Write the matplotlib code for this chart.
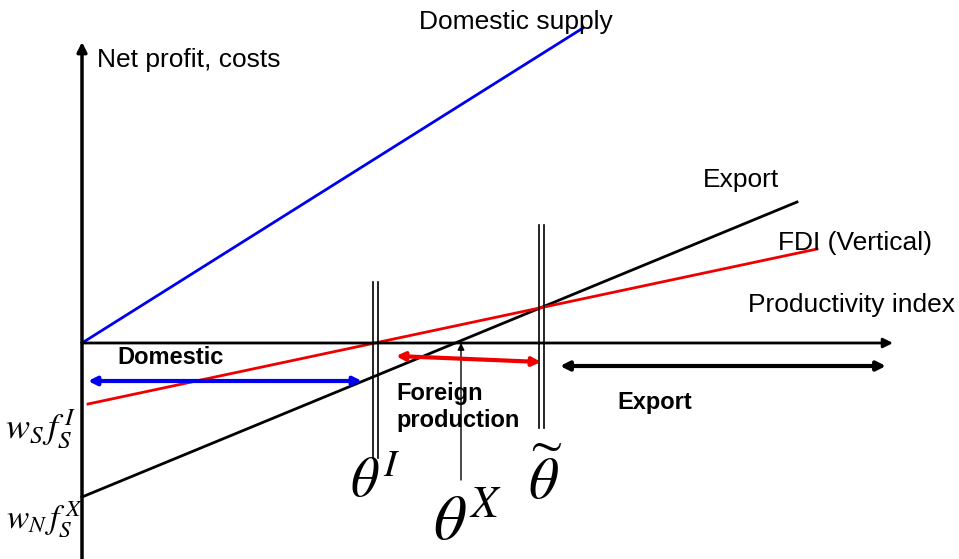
import matplotlib
matplotlib.use("Agg")
import matplotlib.pyplot as plt

plt.rcParams['font.family'] = ['Liberation Sans', 'DejaVu Sans']
plt.rcParams['mathtext.fontset'] = 'stix'

# Diagram data (x = productivity index, y = net profit / costs), origin at axes crossing
domestic_x = [0, 501]
domestic_y = [0, 315]
export_x = [0, 715]
export_y = [-154, 141]
fdi_x = [6, 735]
fdi_y = [-61, 94]

theta_I = 293
theta_X = 379
theta_tilde = 459

x_axis = [0, 811]
y_axis = [-216, 301]

fig = plt.figure(figsize=(9.59, 5.59), dpi=100)
ax = fig.add_axes([0, 0, 1, 1])
ax.set_xlim(-82, 877)
ax.set_ylim(-216, 343)
ax.axis('off')

# axes with arrows
ax.annotate('', xy=(x_axis[1], 0), xytext=(x_axis[0], 0),
            arrowprops=dict(arrowstyle='-|>', color='black', lw=2, mutation_scale=14, shrinkA=0, shrinkB=0))
ax.annotate('', xy=(0, y_axis[1]), xytext=(0, y_axis[0]),
            arrowprops=dict(arrowstyle='-|>', color='black', lw=2.5, mutation_scale=14, shrinkA=0, shrinkB=0))

# lines
ax.plot(domestic_x, domestic_y, color='#0000ee', lw=2)
ax.plot(export_x, export_y, color='black', lw=2)
ax.plot(fdi_x, fdi_y, color='#ee0000', lw=2)

# double vertical lines
for xc, (y0, y1) in [(theta_I, (-115, 61)), (theta_tilde, (-85, 118))]:
    for dx in (-2.5, 2.5):
        ax.plot([xc + dx, xc + dx], [y0, y1], color='black', lw=1.2)

# theta^X thin arrow
ax.annotate('', xy=(theta_X, 0), xytext=(theta_X, -137),
            arrowprops=dict(arrowstyle='-|>', color='black', lw=1, mutation_scale=10, shrinkA=0, shrinkB=0))

# range arrows
ax.annotate('', xy=(280, -38), xytext=(6, -38),
            arrowprops=dict(arrowstyle='<|-|>', color='#0000ee', lw=3, mutation_scale=12, shrinkA=0, shrinkB=0))
ax.annotate('', xy=(459, -19), xytext=(314, -13),
            arrowprops=dict(arrowstyle='<|-|>', color='#ee0000', lw=3, mutation_scale=12, shrinkA=0, shrinkB=0))
ax.annotate('', xy=(804, -23), xytext=(478, -23),
            arrowprops=dict(arrowstyle='<|-|>', color='black', lw=3, mutation_scale=13, shrinkA=0, shrinkB=0))

# texts
ax.text(434, 321, 'Domestic supply', fontsize=19, ha='center', va='center')
ax.text(15, 283, 'Net profit, costs', fontsize=19, ha='left', va='center')
ax.text(659, 163, 'Export', fontsize=19, ha='center', va='center')
ax.text(773, 100, 'FDI (Vertical)', fontsize=19, ha='center', va='center')
ax.text(769, 38, 'Productivity index', fontsize=19, ha='center', va='center')
ax.text(35, -15, 'Domestic', fontsize=17, fontweight='bold', ha='left', va='center')
ax.text(314, -64, 'Foreign\nproduction', fontsize=17, fontweight='bold', ha='left', va='center', linespacing=1.25)
ax.text(573, -59, 'Export', fontsize=17, fontweight='bold', ha='center', va='center')

ax.text(-41, -86, r'$w_S\,f_S^{\,I}$', fontsize=26, ha='center', va='center')
ax.text(-38, -176, r'$w_N\,f_S^{\,X}$', fontsize=24, ha='center', va='center')
ax.text(293, -140, r'$\theta^{I}$', fontsize=40, ha='center', va='center')
ax.text(386, -180, r'$\theta^{X}$', fontsize=46, ha='center', va='center')
ax.text(463, -138, r'$\widetilde{\theta}$', fontsize=42, ha='center', va='center')

fig.savefig('out.png', dpi=100)
